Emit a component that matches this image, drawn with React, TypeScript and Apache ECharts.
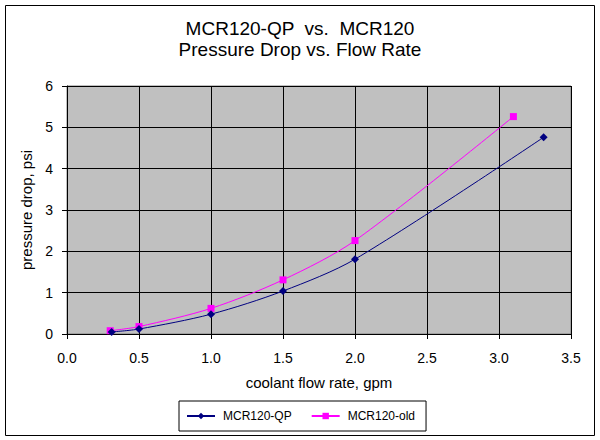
import React, { useEffect, useRef } from "react";
import * as echarts from "echarts";

const qpFlow = [0.31, 0.5, 1.0, 1.5, 2.0, 3.31];
const qpDrop = [0.05, 0.12, 0.48, 1.04, 1.81, 4.76];
const oldFlow = [0.3, 0.5, 1.0, 1.5, 2.0, 3.1];
const oldDrop = [0.08, 0.18, 0.62, 1.31, 2.26, 5.26];
const seriesNames = ["MCR120-QP", "MCR120-old"];
const titleLines = ["MCR120-QP  vs.  MCR120", "Pressure Drop vs. Flow Rate"];

const FONT = "'Liberation Sans', Arial, sans-serif";

export default function App() {
  const ref = useRef<HTMLDivElement>(null);
  useEffect(() => {
    if (!ref.current) return;
    const chart = echarts.init(ref.current, null, { renderer: "svg" });
    const zip = (xs: number[], ys: number[]) => xs.map((x, i) => [x, ys[i]]);
    chart.setOption({
      animation: false,
      backgroundColor: "#ffffff",
      textStyle: { fontFamily: FONT },
      title: {
        text: titleLines.join("\n"),
        left: "center",
        top: 18,
        padding: 0,
        textStyle: { fontFamily: FONT, fontSize: 19, fontWeight: "normal", color: "#000", lineHeight: 21 },
      },
      graphic: [
        {
          type: "rect",
          shape: { x: 5.5, y: 5.5, width: 589, height: 430 },
          style: { fill: "none", stroke: "#000", lineWidth: 1 },
          silent: true,
        },
      ],
      legend: {
        left: 179,
        top: 401,
        orient: "horizontal",
        padding: [9, 11, 9, 7],
        itemGap: 19,
        itemWidth: 28,
        itemHeight: 8,
        borderColor: "#000",
        borderWidth: 1,
        borderRadius: 0,
        textStyle: { fontFamily: FONT, fontSize: 12, color: "#000", padding: [0, 0, 0, 3] },
        data: seriesNames,
      },
      grid: {
        left: 67,
        top: 86,
        right: 29,
        bottom: 106,
        show: true,
        backgroundColor: "#C0C0C0",
        borderColor: "#808080",
        borderWidth: 1,
      },
      xAxis: {
        type: "value",
        min: 0,
        max: 3.5,
        interval: 0.5,
        name: "coolant flow rate, gpm",
        nameLocation: "middle",
        nameGap: 41,
        nameTextStyle: { fontFamily: FONT, fontSize: 15, color: "#000" },
        axisLine: { show: true, lineStyle: { color: "#000", width: 1 } },
        axisTick: { show: true, length: 5, lineStyle: { color: "#000" } },
        axisLabel: {
          fontFamily: FONT,
          fontSize: 14,
          color: "#000",
          margin: 17,
          formatter: (v: number) => v.toFixed(1),
        },
        splitLine: { show: true, lineStyle: { color: "#000", width: 1 } },
      },
      yAxis: {
        type: "value",
        min: 0,
        max: 6,
        interval: 1,
        name: "pressure drop, psi",
        nameLocation: "middle",
        nameGap: 33,
        nameTextStyle: { fontFamily: FONT, fontSize: 15, color: "#000" },
        axisLine: { show: true, lineStyle: { color: "#000", width: 1 } },
        axisTick: { show: true, length: 5, lineStyle: { color: "#000" } },
        axisLabel: { fontFamily: FONT, fontSize: 14, color: "#000", margin: 14 },
        splitLine: { show: true, lineStyle: { color: "#000", width: 1 } },
      },
      series: [
        {
          name: seriesNames[0],
          type: "line",
          smooth: 0.3,
          data: zip(qpFlow, qpDrop),
          symbol: "diamond",
          symbolSize: 8,
          itemStyle: { color: "#000080" },
          lineStyle: { color: "#000080", width: 1 },
          z: 3,
        },
        {
          name: seriesNames[1],
          type: "line",
          smooth: 0.3,
          data: zip(oldFlow, oldDrop),
          symbol: "rect",
          symbolSize: 7,
          itemStyle: { color: "#FF00FF" },
          lineStyle: { color: "#FF00FF", width: 1 },
          z: 2,
        },
      ],
    });
    return () => chart.dispose();
  }, []);
  return (
    <div
      ref={ref}
      style={{ position: "fixed", left: 0, top: 0, width: 600, height: 440 }}
    />
  );
}
